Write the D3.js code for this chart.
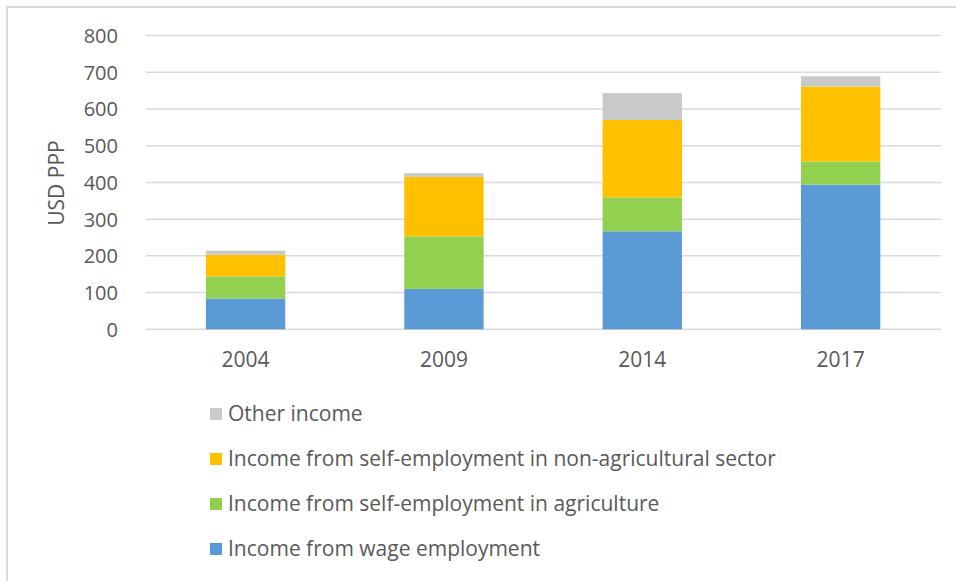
<!DOCTYPE html>
<html><head><meta charset="utf-8">
<script src="https://cdn.jsdelivr.net/npm/d3@7"></script>
<style>
html,body{margin:0;padding:0;background:#fff;}
svg{display:block;}
text{font-family:"Open Sans",sans-serif;fill:#595959;}
</style></head>
<body>
<svg id="chart" width="956" height="581"></svg>
<script>
const years = ["2004","2009","2014","2017"];
const wage = [84,110,267,394];
const agriculture = [60,143,92,63];
const nonAgriculture = [59,162,211,204];
const other = [11,10,73,28];
const seriesNames = ["Income from wage employment","Income from self-employment in agriculture","Income from self-employment in non-agricultural sector","Other income"];
const seriesColors = ["#5B9BD5","#92D050","#FFC000","#C9C9C9"];
const yTicks = [0,100,200,300,400,500,600,700,800];

const svg = d3.select("#chart");
// frame
svg.append("path").attr("d","M7,581 L7,7 L956,7").attr("fill","none").attr("stroke","#d9d9d9").attr("stroke-width",2);

const x = d3.scaleBand().domain(years).range([146.4,939.8]).paddingInner(0.6).paddingOuter(0.3);
const y = d3.scaleLinear().domain([0,800]).range([329.3,35.5]);

// gridlines
svg.append("g").selectAll("line").data(yTicks).join("line")
  .attr("x1",146).attr("x2",941)
  .attr("y1",d=>y(d)).attr("y2",d=>y(d))
  .attr("stroke","#d9d9d9").attr("stroke-width",1.5);

// y axis labels
const yAxis = d3.axisLeft(y).tickValues(yTicks).tickSize(0).tickPadding(0);
const yg = svg.append("g").attr("transform","translate(118,0)").call(yAxis);
yg.select(".domain").remove();
yg.selectAll("text").attr("font-size","20px").attr("fill","#595959").attr("font-family","Open Sans, sans-serif").attr("dy","0.35em");

// stacked data
const table = years.map((yr,i)=>({year:yr,s0:wage[i],s1:agriculture[i],s2:nonAgriculture[i],s3:other[i]}));
const stack = d3.stack().keys(["s0","s1","s2","s3"]);
const layers = stack(table);
svg.append("g").selectAll("g").data(layers).join("g")
  .attr("fill",(d,i)=>seriesColors[i])
  .selectAll("rect").data(d=>d).join("rect")
  .attr("x",d=>x(d.data.year))
  .attr("width",x.bandwidth())
  .attr("y",d=>y(d[1]))
  .attr("height",d=>y(d[0])-y(d[1]));

// x axis labels
const xAxis = d3.axisBottom(x).tickSize(0).tickPadding(0);
const xg = svg.append("g").attr("transform","translate(0,360)").call(xAxis);
xg.select(".domain").remove();
xg.selectAll("text").attr("font-size","21px").attr("fill","#595959").attr("font-family","Open Sans, sans-serif").attr("dy","0.35em");

// y title
svg.append("text").attr("transform","translate(57,183) rotate(-90)")
  .attr("text-anchor","middle").attr("dy","0.35em")
  .attr("font-size","21px").text("USD PPP");

// legend (reverse order, top: Other income)
const legendOrder = [3,2,1,0];
const lg = svg.append("g");
legendOrder.forEach((si,row)=>{
  const cy = 414 + row*45;
  lg.append("rect").attr("x",210).attr("y",cy-6).attr("width",12).attr("height",12).attr("fill",seriesColors[si]);
  lg.append("text").attr("x",228).attr("y",cy).attr("dy","0.35em").attr("font-size","21px").text(seriesNames[si]);
});
</script>
</body></html>
